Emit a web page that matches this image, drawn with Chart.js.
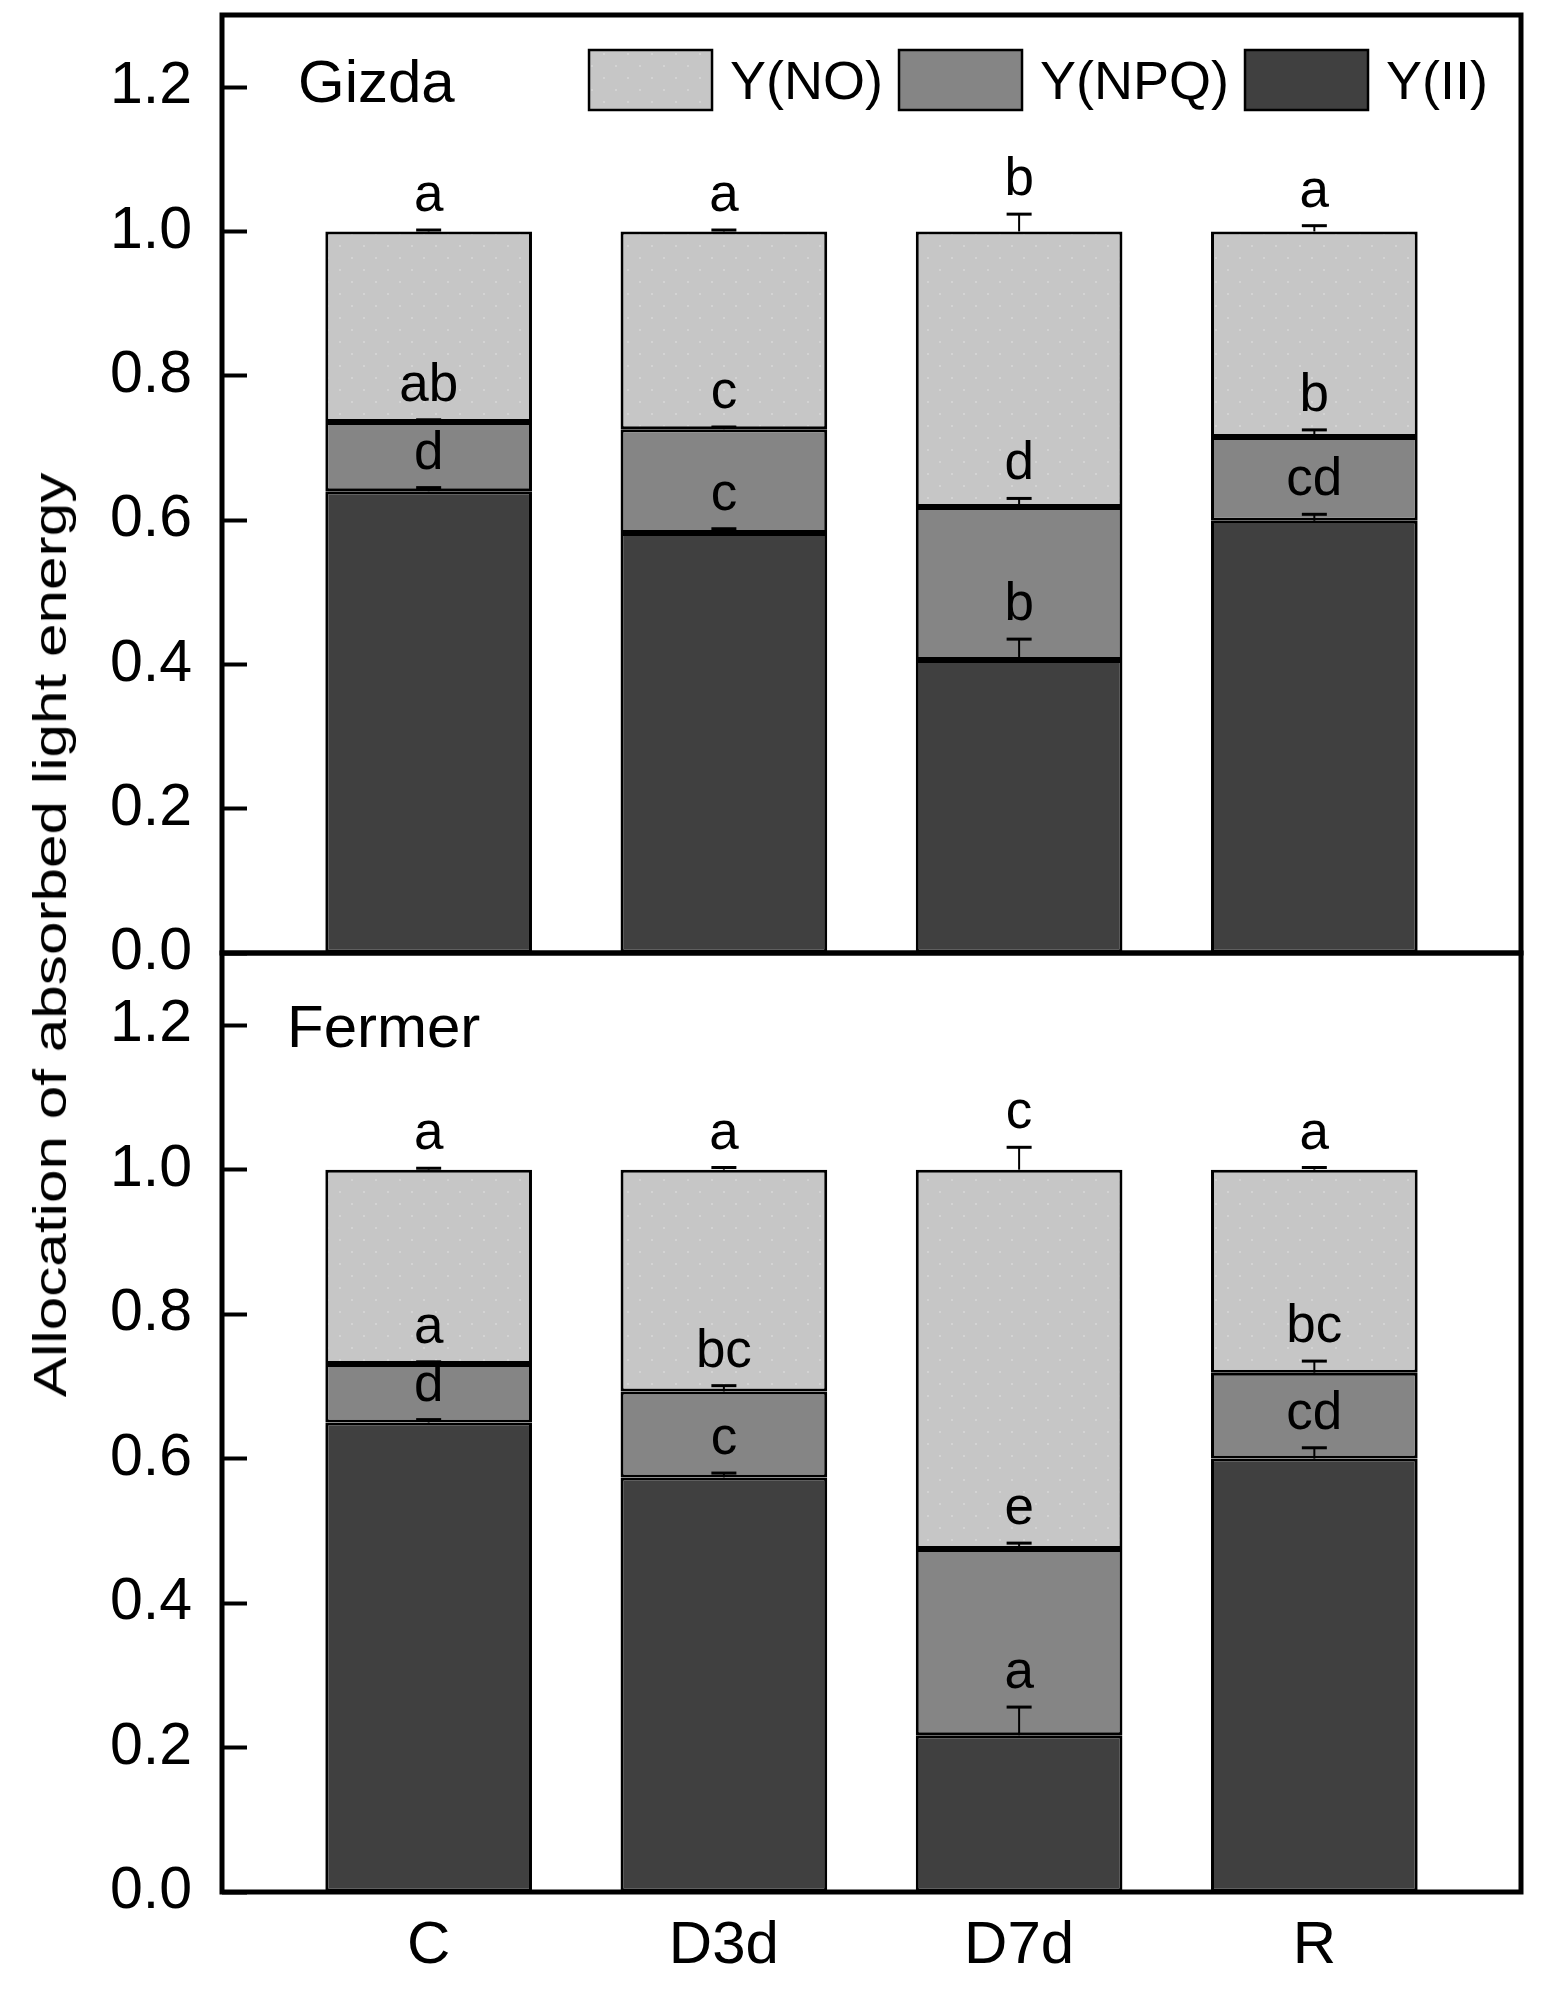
<!DOCTYPE html>
<html>
<head>
<meta charset="utf-8">
<title>Allocation of absorbed light energy</title>
<script src="https://cdn.jsdelivr.net/npm/chart.js@4.4.1/dist/chart.umd.min.js"></script>
<style>
    html, body { margin: 0; padding: 0; background: #fff; }
    #wrap { position: relative; width: 1541px; height: 1989px; overflow: hidden; }
    #Gizda_Chart { position: absolute; left: 0; top: 0; }
    #Fermer_Chart { position: absolute; left: 0; top: 946px; }
    #yTitle {
        position: absolute; left: 50px; top: 935px;
        font-family: "Liberation Sans", Arial, sans-serif; font-size: 46px; line-height: 1;
        white-space: nowrap; color: #000;
        transform: translate(-50%, -50%) rotate(-90deg) scaleX(1.31);
    }
</style>
</head>
<body>
<div id="wrap">
    <canvas id="Gizda_Chart" width="1541" height="990"></canvas>
    <canvas id="Fermer_Chart" width="1541" height="1043"></canvas>
    <div id="yTitle">Allocation of absorbed light energy</div>
</div>
<script>
////////////////////////data////////////////////////////////
var categories = ['C', 'D3d', 'D7d', 'R'];
var seriesNames = ['Y(II)', 'Y(NPQ)', 'Y(NO)'];
var yTicks = [0, 0.2, 0.4, 0.6, 0.8, 1.0, 1.2];

// Gizda
var gizda_YII  = [0.640, 0.582, 0.406, 0.599];
var gizda_YNPQ = [0.096, 0.144, 0.212, 0.116];
var gizda_YNO  = [0.264, 0.274, 0.382, 0.285];
var gizda_errYII  = [0.005, 0.006, 0.029, 0.009];
var gizda_errYNPQ = [0.003, 0.003, 0.012, 0.010];
var gizda_errYNO  = [0.002, 0.002, 0.024, 0.008];
var gizda_letYII  = ['d', 'c', 'b', 'cd'];
var gizda_letYNPQ = ['ab', 'c', 'd', 'b'];
var gizda_letYNO  = ['a', 'a', 'b', 'a'];

// Fermer
var fermer_YII  = [0.650, 0.574, 0.217, 0.600];
var fermer_YNPQ = [0.081, 0.119, 0.258, 0.119];
var fermer_YNO  = [0.269, 0.307, 0.525, 0.281];
var fermer_errYII  = [0.004, 0.006, 0.039, 0.015];
var fermer_errYNPQ = [0.003, 0.008, 0.008, 0.016];
var fermer_errYNO  = [0.002, 0.003, 0.031, 0.003];
var fermer_letYII  = ['d', 'c', 'a', 'cd'];
var fermer_letYNPQ = ['a', 'bc', 'e', 'bc'];
var fermer_letYNO  = ['a', 'a', 'c', 'a'];

////////////////////////style////////////////////////////////
var FONT = '"Liberation Sans", Arial, Helvetica, sans-serif';
var fillColors = ['#404040', '#858585', '#c6c6c6'];

function dotPattern() {
    var c = document.createElement('canvas');
    c.width = 24;
    c.height = 24;
    var g = c.getContext('2d');
    g.fillStyle = '#c6c6c6';
    g.fillRect(0, 0, 24, 24);
    g.fillStyle = '#d3d3d3';
    g.fillRect(3, 5, 2, 2);
    g.fillRect(15, 17, 2, 2);
    return g.createPattern(c, 'repeat');
}

// error bars, letters, frame, panel name, legend
var panelPlugin = {
    id: 'panelPlugin',
    afterDatasetsDraw: function (chart) {
        var o = chart.options.plugins.panelPlugin;
        var ctx = chart.ctx;
        var xs = chart.scales.x, ys = chart.scales.y;
        ctx.save();
        ctx.strokeStyle = '#000';
        ctx.fillStyle = '#000';
        categories.forEach(function (c, i) {
            var cum = 0;
            var px = xs.getPixelForValue(i);
            for (var k = 0; k < o.values.length; k++) {
                cum += o.values[k][i];
                var y0 = ys.getPixelForValue(cum);
                var y1 = ys.getPixelForValue(cum + o.errors[k][i]);
                ctx.lineWidth = 2;
                ctx.beginPath();
                ctx.moveTo(px, y0);
                ctx.lineTo(px, y1);
                ctx.stroke();
                ctx.lineWidth = 3;
                ctx.beginPath();
                ctx.moveTo(px - 12.5, y1);
                ctx.lineTo(px + 12.5, y1);
                ctx.stroke();

                ctx.font = '53px ' + FONT;
                ctx.textAlign = 'center';
                ctx.textBaseline = 'alphabetic';
                ctx.fillText(o.letters[k][i], px, y1 - 19);
            }
        });
        ctx.restore();
    },
    afterDraw: function (chart) {
        var o = chart.options.plugins.panelPlugin;
        var ctx = chart.ctx, a = chart.chartArea;
        ctx.save();
        ctx.strokeStyle = '#000';
        ctx.lineWidth = 5;
        ctx.strokeRect(a.left, a.top, a.right - a.left, a.bottom - a.top);

        ctx.fillStyle = '#000';
        ctx.font = '60px ' + FONT;
        ctx.textAlign = 'left';
        ctx.textBaseline = 'alphabetic';
        ctx.fillText(o.name, a.left + o.nameX, a.top + o.nameY);

        if (o.legend) {
            var items = chart.data.datasets.slice().reverse();
            var boxW = 123, boxH = 60, gapText = 18, gapItem = 16;
            ctx.font = '54px ' + FONT;
            var total = 0;
            items.forEach(function (d, i) {
                total += boxW + gapText + ctx.measureText(d.label).width;
                if (i < items.length - 1) total += gapItem;
            });
            var x = a.right - 33 - total;
            var y = a.top + 35;
            items.forEach(function (d) {
                ctx.fillStyle = d.backgroundColor;
                ctx.fillRect(x, y, boxW, boxH);
                ctx.lineWidth = 2.5;
                ctx.strokeStyle = '#000';
                ctx.strokeRect(x, y, boxW, boxH);
                ctx.fillStyle = '#000';
                ctx.fillText(d.label, x + boxW + gapText, y + boxH - 11);
                x += boxW + gapText + ctx.measureText(d.label).width + gapItem;
            });
        }
        ctx.restore();
    }
};

function createPanel(canvasId, name, values, errors, letters, showX, nameX, nameY, padding) {
    var canvas = document.getElementById(canvasId);
    return new Chart(canvas, {
        type: 'bar',
        data: {
            datasets: seriesNames.map(function (n, k) {
                return {
                    label: n,
                    data: values[k].map(function (v, i) { return { x: i, y: v }; }),
                    backgroundColor: k === 2 ? dotPattern() : fillColors[k],
                    borderColor: '#000',
                    borderWidth: 3,
                    borderSkipped: false,
                    categoryPercentage: 1,
                    barPercentage: 0.7
                };
            })
        },
        options: {
            responsive: false,
            devicePixelRatio: 1,
            animation: false,
            layout: { padding: padding },
            plugins: {
                legend: { display: false },
                tooltip: { enabled: false },
                panelPlugin: {
                    name: name,
                    values: values,
                    errors: errors,
                    letters: letters,
                    legend: !showX,
                    nameX: nameX,
                    nameY: nameY
                }
            },
            scales: {
                x: {
                    type: 'linear',
                    stacked: true,
                    offset: false,
                    min: -0.7,
                    max: 3.7,
                    display: showX,
                    afterBuildTicks: function (s) {
                        s.ticks = categories.map(function (c, i) { return { value: i }; });
                    },
                    afterFit: function (s) {
                        s.height = showX ? 97 : 0;
                        s.paddingLeft = 0;
                        s.paddingRight = 0;
                    },
                    grid: { display: false, drawTicks: false },
                    border: { display: false },
                    ticks: {
                        padding: 18,
                        color: '#000',
                        maxRotation: 0,
                        autoSkip: false,
                        font: { family: FONT, size: 60 },
                        callback: function (v) { return categories[v]; }
                    }
                },
                y: {
                    stacked: true,
                    min: 0,
                    max: 1.3,
                    afterBuildTicks: function (s) {
                        s.ticks = yTicks.map(function (v) { return { value: v }; });
                    },
                    afterFit: function (s) {
                        s.width = 222;
                        s.paddingTop = 0;
                        s.paddingBottom = 0;
                    },
                    grid: {
                        drawOnChartArea: false,
                        drawTicks: true,
                        tickLength: -25,
                        tickWidth: 4,
                        tickColor: '#000'
                    },
                    border: { display: false },
                    ticks: {
                        padding: 55,
                        color: '#000',
                        font: { family: FONT, size: 59 },
                        callback: function (v) { return Number(v).toFixed(1); }
                    }
                }
            }
        },
        plugins: [panelPlugin]
    });
}

var Gizda_Chart = null;
var Fermer_Chart = null;

document.addEventListener('DOMContentLoaded', function () {
    Gizda_Chart = createPanel('Gizda_Chart', 'Gizda',
        [gizda_YII, gizda_YNPQ, gizda_YNO],
        [gizda_errYII, gizda_errYNPQ, gizda_errYNO],
        [gizda_letYII, gizda_letYNPQ, gizda_letYNO],
        false, 76, 87, { top: 15, right: 20, bottom: 37, left: 0 });

    Fermer_Chart = createPanel('Fermer_Chart', 'Fermer',
        [fermer_YII, fermer_YNPQ, fermer_YNO],
        [fermer_errYII, fermer_errYNPQ, fermer_errYNO],
        [fermer_letYII, fermer_letYNPQ, fermer_letYNO],
        true, 65, 94, { top: 7, right: 20, bottom: 0, left: 0 });
});
</script>
</body>
</html>
